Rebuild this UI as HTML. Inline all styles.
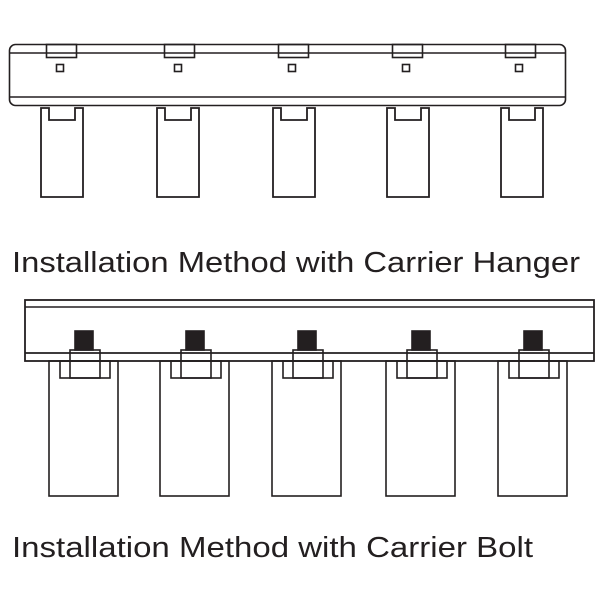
<!DOCTYPE html>
<html><head><meta charset="utf-8"><style>
html,body{margin:0;padding:0;background:#fff;}
svg{display:block}
text{font-family:"Liberation Sans",sans-serif;fill:#231f20}
</style></head><body>
<svg width="600" height="600" viewBox="0 0 600 600" xmlns="http://www.w3.org/2000/svg">
<g fill="none" stroke="#231f20">
  <!-- top bar -->
  <rect x="9.5" y="44.5" width="556" height="61" rx="6" stroke-width="1.6"/>
  <line x1="10" y1="53" x2="565" y2="53" stroke-width="1.6"/>
  <line x1="10" y1="97" x2="565" y2="97" stroke-width="1.6"/>
  <!-- tabs, holes, hangers -->
  <g stroke-width="1.6">
    <rect x="46.5" y="44.5" width="30" height="13"/><rect x="56.5" y="64.5" width="7" height="7"/>
    <rect x="164.5" y="44.5" width="30" height="13"/><rect x="174.5" y="64.5" width="7" height="7"/>
    <rect x="278.5" y="44.5" width="30" height="13"/><rect x="288.5" y="64.5" width="7" height="7"/>
    <rect x="392.5" y="44.5" width="30" height="13"/><rect x="402.5" y="64.5" width="7" height="7"/>
    <rect x="505.5" y="44.5" width="30" height="13"/><rect x="515.5" y="64.5" width="7" height="7"/>
  </g>
  <g stroke-width="1.8">
    <path d="M41 108 V197 H83 V108 H75 V120 H49 V108 Z"/>
    <path d="M157 108 V197 H199 V108 H191 V120 H165 V108 Z"/>
    <path d="M273 108 V197 H315 V108 H307 V120 H281 V108 Z"/>
    <path d="M387 108 V197 H429 V108 H421 V120 H395 V108 Z"/>
    <path d="M501 108 V197 H543 V108 H535 V120 H509 V108 Z"/>
  </g>
  <!-- bottom bar -->
  <rect x="25" y="300" width="569" height="61" stroke-width="1.8"/>
  <line x1="25" y1="307" x2="594" y2="307" stroke-width="1.6"/>
  <line x1="25" y1="353" x2="594" y2="353" stroke-width="1.8"/>
</g>
<g fill="none" stroke="#231f20" stroke-width="1.6">
  <g id="u">
    <rect x="49" y="361" width="69" height="135"/>
    <rect x="60" y="361" width="50" height="17"/>
    <rect x="70" y="350" width="30" height="28"/>
    <rect x="75" y="331" width="18" height="19" fill="#231f20"/>
  </g>
  <use href="#u" x="111"/>
  <use href="#u" x="223"/>
  <use href="#u" x="337"/>
  <use href="#u" x="449"/>
</g>
<text x="12" y="272" font-size="28.5" textLength="568" lengthAdjust="spacingAndGlyphs">Installation Method with Carrier Hanger</text>
<text x="12" y="557" font-size="28.5" textLength="521" lengthAdjust="spacingAndGlyphs">Installation Method with Carrier Bolt</text>
</svg>
</body></html>
